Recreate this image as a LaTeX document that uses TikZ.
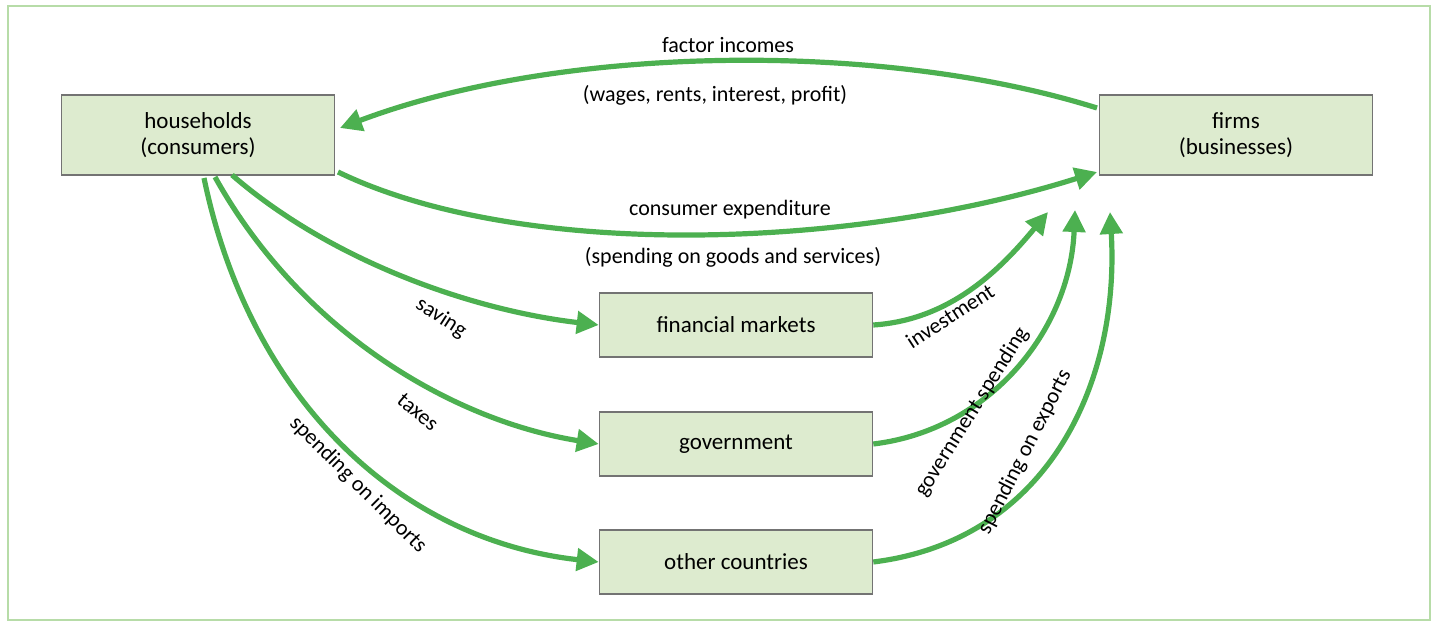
\documentclass[tikz,border=0pt]{standalone}
\usepackage{fontspec}
\setmainfont{Carlito}
\usetikzlibrary{arrows.meta}
\definecolor{boxfill}{HTML}{DDEBCF}
\definecolor{flow}{HTML}{4CB050}
\definecolor{frame}{HTML}{B7DCA8}
\tikzset{
  box/.style={draw=black!55, fill=boxfill, line width=0.8pt, minimum width=136.5pt, minimum height=40pt, align=center, font=\fontsize{11.5}{13}\selectfont},
  smallbox/.style={box, minimum height=32pt},
  flowarrow/.style={draw=flow, line width=2.6pt, -{Triangle[length=11pt,width=11pt]}},
  lbl/.style={font=\fontsize{11}{13}\selectfont}
}
\begin{document}
\begin{tikzpicture}[x=0.5pt,y=-0.5pt]
\useasboundingbox (0,0) rectangle (1440,624);
\draw[frame, line width=1.2pt] (8,6) rectangle (1430,620);
\node[box] (hh) at (198,135) {households\\(consumers)};
\node[box] (firms) at (1236,135) {firms\\(businesses)};
\node[smallbox] (fin) at (736,325) {financial markets};
\node[smallbox] (gov) at (736,444) {government};
\node[smallbox] (oth) at (736,562) {other countries};
\coordinate (fA) at (1097,108);
\coordinate (hA) at (340,128);
\coordinate (hB) at (338,172);
\coordinate (fB) at (1097,172);
\coordinate (h1) at (232,175);
\coordinate (h2) at (215,177);
\coordinate (h3) at (204,178);
\coordinate (i1) at (1048,212);
\coordinate (i2) at (1075,210);
\coordinate (i3) at (1110,212);
\draw[flowarrow] (fA) .. controls (880,40) and (560,45) .. (hA);
\draw[flowarrow] (hB) .. controls (520,260) and (850,250) .. (fB);
\draw[flowarrow] (h1) .. controls (330,260) and (470,310) .. (fin.west);
\draw[flowarrow] (h2) .. controls (300,330) and (450,420) .. (gov.west);
\draw[flowarrow] (h3) .. controls (250,400) and (400,540) .. (oth.west);
\draw[flowarrow] (fin.east) .. controls (950,320) and (1000,270) .. (i1);
\draw[flowarrow] (gov.east) .. controls (990,430) and (1070,330) .. (i2);
\draw[flowarrow] (oth.east) .. controls (1050,540) and (1120,380) .. (i3);
\node[lbl] at (728,45) {factor incomes};
\node[lbl] at (715,95) {(wages, rents, interest, profit)};
\node[lbl] at (730,210) {consumer expenditure};
\node[lbl] at (733,257) {(spending on goods and services)};
\node[lbl, rotate=-33] at (441,318) {saving};
\node[lbl, rotate=-40] at (418,412) {taxes};
\node[lbl, rotate=-45] at (358,485) {spending on imports};
\node[lbl, rotate=33] at (950,316) {investment};
\node[lbl, rotate=58] at (972,412) {government spending};
\node[lbl, rotate=63] at (1025,452) {spending on exports};
\end{tikzpicture}
\end{document}
